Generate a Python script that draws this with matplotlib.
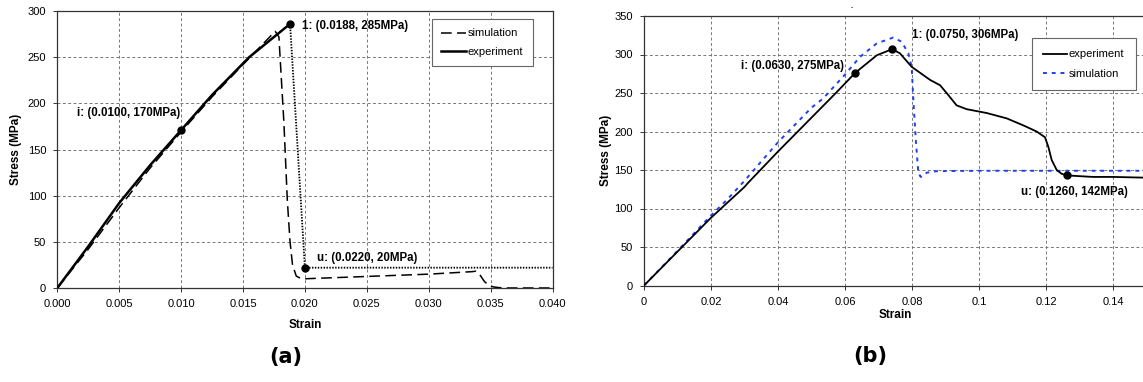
import matplotlib
matplotlib.use("Agg")
import matplotlib.pyplot as plt

plt.rcParams['font.family'] = ['Liberation Sans', 'DejaVu Sans']

# ---------------- Panel (a) data ----------------
exp_a_strain = [0, 0.0025, 0.005, 0.0075, 0.010, 0.0125, 0.0155, 0.0188]
exp_a_stress = [0, 45, 92, 133, 171, 209, 250, 286]
exp_a_post_strain = [0.0188, 0.0200, 0.0400]
exp_a_post_stress = [286, 22, 22]
sim_a_strain = [0, 0.0025, 0.005, 0.0075, 0.010, 0.0125, 0.015, 0.0176, 0.0179, 0.0183,
                0.01858, 0.0188, 0.0190, 0.0193, 0.0197, 0.0200, 0.0250, 0.0300, 0.0335,
                0.0338, 0.0341, 0.0345, 0.0349, 0.0353, 0.0360, 0.0400]
sim_a_stress = [0, 42, 87, 130, 169, 207, 242, 278, 272, 180,
                95, 50, 25, 13, 10, 10, 12.5, 15, 17.7,
                18.2, 15, 7, 2.5, 1, 0, 0]
pts_a_strain = [0.0100, 0.0188, 0.0200]
pts_a_stress = [171, 286, 22]
lbl_a = ["i: (0.0100, 170MPa)", "1: (0.0188, 285MPa)", "u: (0.0220, 20MPa)"]
lbl_a_x = [0.00157, 0.01973, 0.02094]
lbl_a_y = [189.5, 284, 32]
xticks_a = [0.000, 0.005, 0.010, 0.015, 0.020, 0.025, 0.030, 0.035, 0.040]
xticklabels_a = ["0.000", "0.005", "0.010", "0.015", "0.020", "0.025", "0.030", "0.035", "0.040"]
yticks_a = [0, 50, 100, 150, 200, 250, 300]

# ---------------- Panel (b) data ----------------
exp_b_strain = [0, 0.010, 0.020, 0.030, 0.031, 0.040, 0.050, 0.0575, 0.063, 0.0695, 0.0741,
                0.0764, 0.0799, 0.0854, 0.0884, 0.0909, 0.0933, 0.0963, 0.1023, 0.1083,
                0.1132, 0.1172, 0.1197, 0.1207, 0.1217, 0.1232, 0.1247, 0.1262, 0.1300,
                0.1341, 0.1400, 0.1500]
exp_b_stress = [0, 44, 88, 128, 133, 174, 218, 251, 276, 299, 307,
                301.5, 284, 267, 260, 247, 234, 229, 224, 217,
                208, 200, 192.5, 180, 163, 150, 145, 143, 142,
                141, 141, 140]
sim_b_strain = [0, 0.010, 0.020, 0.0247, 0.030, 0.040, 0.050, 0.0535, 0.060, 0.0645, 0.0695,
                0.0744, 0.0769, 0.0789, 0.0799, 0.0804, 0.0812, 0.0819, 0.0826, 0.0844,
                0.0874, 0.1000, 0.1500]
sim_b_stress = [0, 45, 91, 111, 136, 186, 231, 243, 274, 297, 314.5,
                322, 316.6, 301.6, 284, 241, 185, 146, 141, 146.5,
                148.5, 149, 149]
pts_b_strain = [0.0630, 0.0741, 0.1262]
pts_b_stress = [276, 307, 143]
lbl_b = ["i: (0.0630, 275MPa)", "1: (0.0750, 306MPa)", "u: (0.1260, 142MPa)"]
lbl_b_x = [0.02887, 0.0801, 0.1125]
lbl_b_y = [285.5, 325, 121.8]
xticks_b = [0, 0.02, 0.04, 0.06, 0.08, 0.1, 0.12, 0.14]
xticklabels_b = ["0", "0.02", "0.04", "0.06", "0.08", "0.1", "0.12", "0.14"]
yticks_b = [0, 50, 100, 150, 200, 250, 300, 350]

W, H = 1143, 382
fig = plt.figure(figsize=(W / 100, H / 100), dpi=100)

def px_axes(x0, y0, x1, y1):
    return fig.add_axes([x0 / W, 1 - y1 / H, (x1 - x0) / W, (y1 - y0) / H])

ax1 = px_axes(57.3, 11, 552.5, 288)
ax2 = px_axes(644, 16, 1146.5, 285.5)

grid_kw = dict(color='#777777', linestyle=(0, (3, 2.5)), linewidth=0.7)

def style(ax, xt, xtl, yt, xlabelpad):
    ax.set_xticks(xt)
    ax.set_xticklabels(xtl)
    ax.set_yticks(yt)
    ax.set_axisbelow(True)
    ax.grid(True, **grid_kw)
    ax.tick_params(direction='out', length=3, width=0.7, labelsize=8, pad=5, color='#333333')
    for s in ax.spines.values():
        s.set_linewidth(0.9)
        s.set_color('#333333')
    ax.set_xlabel("Strain", fontsize=8.5, fontweight='bold', labelpad=xlabelpad)
    ax.set_ylabel("Stress (MPa)", fontsize=8.5, fontweight='bold')

# ---- Panel (a)
ax1.plot(sim_a_strain, sim_a_stress, color='black', lw=1.1, linestyle=(0, (7, 3.5)),
         label='simulation', zorder=3)
ax1.plot(exp_a_strain, exp_a_stress, color='black', lw=1.8, label='experiment', zorder=4)
ax1.plot(exp_a_post_strain, exp_a_post_stress, color='black', lw=1.3, linestyle=(0, (0.8, 0.8)),
         zorder=4)
ax1.plot(pts_a_strain, pts_a_stress, 'o', color='black', ms=5, zorder=5)
for t, x, y in zip(lbl_a, lbl_a_x, lbl_a_y):
    ax1.text(x, y, t, fontsize=8.3, fontweight='bold', ha='left', va='center')
ax1.set_xlim(0, 0.040)
ax1.set_ylim(0, 300)
style(ax1, xticks_a, xticklabels_a, yticks_a, 7)
ax1.yaxis.set_label_coords(-0.071, 0.5)
leg1 = ax1.legend(loc='upper left', bbox_to_anchor=(0.7567, 0.9711), fontsize=8,
                  handlelength=2.2, handletextpad=0.15, labelspacing=0.75, borderpad=0.85,
                  fancybox=False, framealpha=1, edgecolor='#666666', borderaxespad=0)
leg1.get_frame().set_linewidth(0.8)

# ---- Panel (b)
ax2.plot(exp_b_strain, exp_b_stress, color='black', lw=1.3, label='experiment', zorder=4)
ax2.plot(sim_b_strain, sim_b_stress, color='#2040f0', lw=1.4, linestyle=(0, (2, 2.5)),
         label='simulation', zorder=3)
ax2.plot(pts_b_strain, pts_b_stress, 'o', color='black', ms=5, zorder=5)
for t, x, y in zip(lbl_b, lbl_b_x, lbl_b_y):
    ax2.text(x, y, t, fontsize=8.3, fontweight='bold', ha='left', va='center', zorder=6)
ax2.set_xlim(0, 0.15)
ax2.set_ylim(0, 350)
style(ax2, xticks_b, xticklabels_b, yticks_b, 2)
ax2.yaxis.set_label_coords(-0.064, 0.5)
leg2 = ax2.legend(loc='upper left', bbox_to_anchor=(0.7716, 0.9173), fontsize=8,
                  handlelength=2.2, handletextpad=0.15, labelspacing=0.85, borderpad=1.0,
                  fancybox=False, framealpha=1, edgecolor='#666666', borderaxespad=0)
leg2.get_frame().set_linewidth(0.8)

fig.text(851.7 / W, 1 - 7.3 / H, "-", fontsize=5, ha='center', va='center')
fig.text(286 / W, 1 - 357 / H, "(a)", fontsize=15, fontweight='bold', ha='center', va='center',
         family='DejaVu Sans')
fig.text(870 / W, 1 - 356 / H, "(b)", fontsize=15, fontweight='bold', ha='center', va='center',
         family='DejaVu Sans')

fig.savefig("out.png", dpi=100)
